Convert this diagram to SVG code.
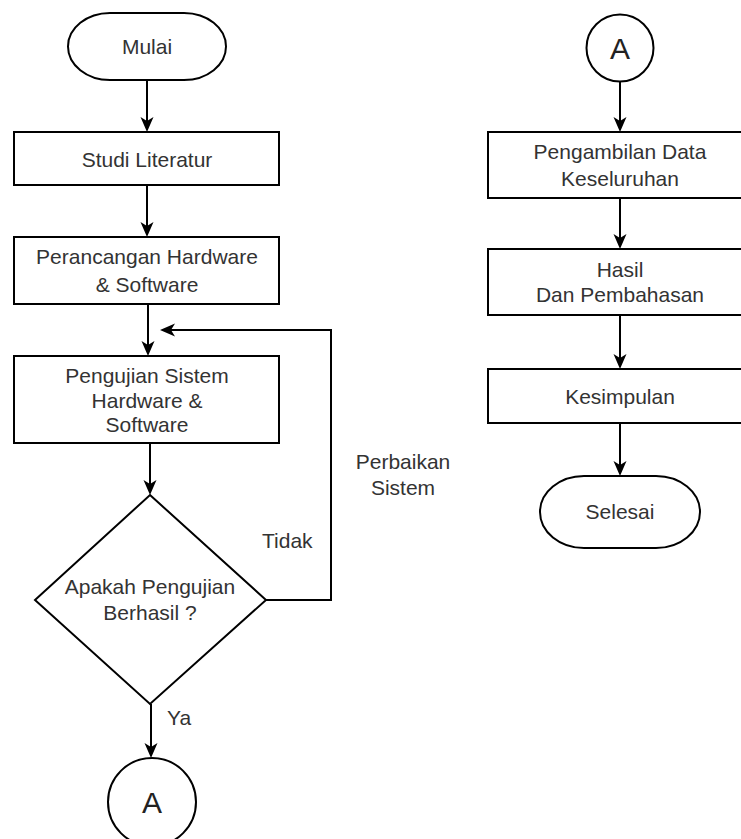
<svg xmlns="http://www.w3.org/2000/svg" width="741" height="839" viewBox="0 0 741 839">
<defs>
<style>
.s{fill:#fff;stroke:#000;stroke-width:2}
.t{font-family:"Liberation Sans",Arial,sans-serif;font-size:21px;fill:#333;text-anchor:middle}
.l{font-family:"Liberation Sans",Arial,sans-serif;font-size:21px;fill:#333}
.c{font-family:"Liberation Sans",Arial,sans-serif;font-size:30px;fill:#222;text-anchor:middle}
.e{fill:none;stroke:#000;stroke-width:2}
</style>
<marker id="ah" markerUnits="userSpaceOnUse" markerWidth="15" markerHeight="13" refX="4" refY="6.5" orient="auto" overflow="visible">
<path d="M0,0 L15,6.5 L0,13 L4,6.5 z" fill="#000"/>
</marker>
</defs>
<rect width="741" height="839" fill="#fff"/>
<g id="connectors">
<line class="e" x1="147" y1="80" x2="147" y2="121" marker-end="url(#ah)"/>
<line class="e" x1="147" y1="185" x2="147" y2="226" marker-end="url(#ah)"/>
<line class="e" x1="148" y1="304" x2="148" y2="345" marker-end="url(#ah)"/>
<line class="e" x1="150" y1="443" x2="150" y2="484" marker-end="url(#ah)"/>
<line class="e" x1="151" y1="704" x2="151" y2="747" marker-end="url(#ah)"/>
<polyline class="e" points="266,600 331,600 331,330 171,330" marker-end="url(#ah)"/>
<line class="e" x1="620" y1="82" x2="620" y2="121" marker-end="url(#ah)"/>
<line class="e" x1="620" y1="198" x2="620" y2="238" marker-end="url(#ah)"/>
<line class="e" x1="620" y1="315" x2="620" y2="358" marker-end="url(#ah)"/>
<line class="e" x1="620" y1="423" x2="620" y2="465" marker-end="url(#ah)"/>
<text class="l" x="167" y="725">Ya</text>
<text class="l" x="262" y="548">Tidak</text>
<text class="t" x="403" y="469">Perbaikan</text>
<text class="t" x="403" y="495">Sistem</text>
</g>
<g id="mulai">
<rect class="s" x="68" y="13" width="158" height="67" rx="42" ry="33.5"/>
<text class="t" x="147" y="54">Mulai</text>
</g>
<g id="studi">
<rect class="s" x="14" y="132" width="265" height="53"/>
<text class="t" x="147" y="167">Studi Literatur</text>
</g>
<g id="perancangan">
<rect class="s" x="14" y="237" width="265" height="67"/>
<text class="t" x="147" y="264">Perancangan Hardware</text>
<text class="t" x="147" y="292">&amp; Software</text>
</g>
<g id="pengujian">
<rect class="s" x="14" y="356" width="265" height="87"/>
<text class="t" x="147" y="383">Pengujian Sistem</text>
<text class="t" x="147" y="408">Hardware &amp;</text>
<text class="t" x="147" y="432">Software</text>
</g>
<g id="keputusan">
<polygon class="s" points="150,495 266,600 150,704 35,600"/>
<text class="t" x="150" y="594">Apakah Pengujian</text>
<text class="t" x="150" y="620">Berhasil ?</text>
</g>
<g id="konektorA1">
<circle class="s" cx="152" cy="802" r="44"/>
<text class="c" x="152" y="813">A</text>
</g>
<g id="konektorA2">
<circle class="s" cx="620" cy="48" r="33.5"/>
<text class="c" x="620" y="59">A</text>
</g>
<g id="pengambilan">
<rect class="s" x="488" y="132" width="265" height="66"/>
<text class="t" x="620" y="159">Pengambilan Data</text>
<text class="t" x="620" y="186">Keseluruhan</text>
</g>
<g id="hasil">
<rect class="s" x="488" y="249" width="265" height="66"/>
<text class="t" x="620" y="277">Hasil</text>
<text class="t" x="620" y="302">Dan Pembahasan</text>
</g>
<g id="kesimpulan">
<rect class="s" x="488" y="369" width="265" height="54"/>
<text class="t" x="620" y="404">Kesimpulan</text>
</g>
<g id="selesai">
<rect class="s" x="540" y="476" width="160" height="72" rx="44" ry="36"/>
<text class="t" x="620" y="519">Selesai</text>
</g>
</svg>
